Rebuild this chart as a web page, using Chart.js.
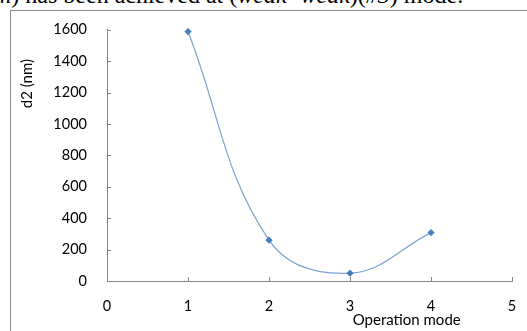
<!DOCTYPE html>
<html>
<head>
<meta charset="utf-8">
<script src="https://cdn.jsdelivr.net/npm/chart.js@4/dist/chart.umd.min.js"></script>
<style>
  body { margin: 0; background: #fff; width: 527px; height: 331px; overflow: hidden; position: relative; }
  #caption { position: absolute; left: -6px; top: -17px; font-family: "Liberation Serif", serif; font-size: 24px; line-height: 24px; white-space: nowrap; color: #000; }
  #frame { position: absolute; left: 10px; top: 10px; width: 520px; height: 330px; border-left: 1px solid #8a8a8a; border-top: 1px solid #8a8a8a; }
  #box { position: absolute; left: 11px; top: 9px; width: 516px; height: 322px; }
</style>
</head>
<body>
<div id="caption"><i>m</i>) has been achieved at (<i>weak- weak</i>)(<i>#3</i>) mode.</div>
<div id="frame"></div>
<div id="box"><canvas id="graph"></canvas></div>
<script>
var modes = [1, 2, 3, 4];
var d2 = [1588, 260, 50, 308];
var xTicks = [0, 1, 2, 3, 4, 5];
var yTicks = [0, 200, 400, 600, 800, 1000, 1200, 1400, 1600];

var axisColor = '#868686';
var labelFont = { family: 'Lato', size: 14.5 };

// Excel-style inward tick marks and free-placed axis titles
var excelAxes = {
  id: 'excelAxes',
  afterDraw: function(chart) {
    var ctx = chart.ctx;
    var xs = chart.scales.x, ys = chart.scales.y;
    var area = chart.chartArea;
    ctx.save();
    ctx.strokeStyle = axisColor;
    ctx.lineWidth = 1;
    ctx.beginPath();
    yTicks.forEach(function(v) {
      var py = Math.round(ys.getPixelForValue(v)) + 0.5;
      ctx.moveTo(area.left, py);
      ctx.lineTo(area.left + 4, py);
    });
    xTicks.forEach(function(v) {
      var px = Math.round(xs.getPixelForValue(v)) + 0.5;
      ctx.moveTo(px, area.bottom);
      ctx.lineTo(px, area.bottom - 4);
    });
    ctx.stroke();

    ctx.fillStyle = '#000';
    ctx.font = '15px Lato';
    ctx.textAlign = 'center';
    ctx.textBaseline = 'middle';
    ctx.fillText('Operation mode', xs.getPixelForValue(3.7), area.bottom + 39);

    ctx.translate(16, ys.getPixelForValue(1257));
    ctx.rotate(-Math.PI / 2);
    ctx.fillText('d2 (nm)', 0, 0);
    ctx.restore();
  }
};

var context = document.querySelector('#graph').getContext('2d');
var chart = new Chart(context, {
  type: 'line',
  data: {
    datasets: [{
      data: modes.map(function(m, i) { return { x: m, y: d2[i] }; }),
      borderColor: '#7aa3d6',
      borderWidth: 1.2,
      backgroundColor: '#4a7ebb',
      pointBackgroundColor: '#4a7ebb',
      pointBorderColor: '#4a7ebb',
      pointStyle: 'rectRot',
      pointRadius: 2.8,
      tension: 0.4,
      clip: false,
      fill: false
    }]
  },
  options: {
    responsive: true,
    maintainAspectRatio: false,
    animation: false,
    layout: { padding: { top: 16, right: 15, left: 0, bottom: 0 } },
    plugins: {
      legend: { display: false },
      tooltip: { enabled: false }
    },
    scales: {
      x: {
        type: 'linear',
        min: 0,
        max: 5,
        afterBuildTicks: function(s) { s.ticks = xTicks.map(function(v) { return { value: v }; }); },
        ticks: { color: '#000', font: labelFont, padding: 9, callback: function(v) { return String(v); } },
        grid: { display: false },
        border: { color: axisColor, width: 1 },
        afterFit: function(s) { s.height = 50; }
      },
      y: {
        min: 0,
        max: 1600,
        afterBuildTicks: function(s) { s.ticks = yTicks.map(function(v) { return { value: v }; }); },
        ticks: { color: '#000', font: labelFont, padding: 12, callback: function(v) { return String(v); } },
        grid: { display: false },
        border: { color: axisColor, width: 1 },
        afterFit: function(s) { s.width = 96; }
      }
    }
  },
  plugins: [excelAxes]
});
</script>
</body>
</html>
